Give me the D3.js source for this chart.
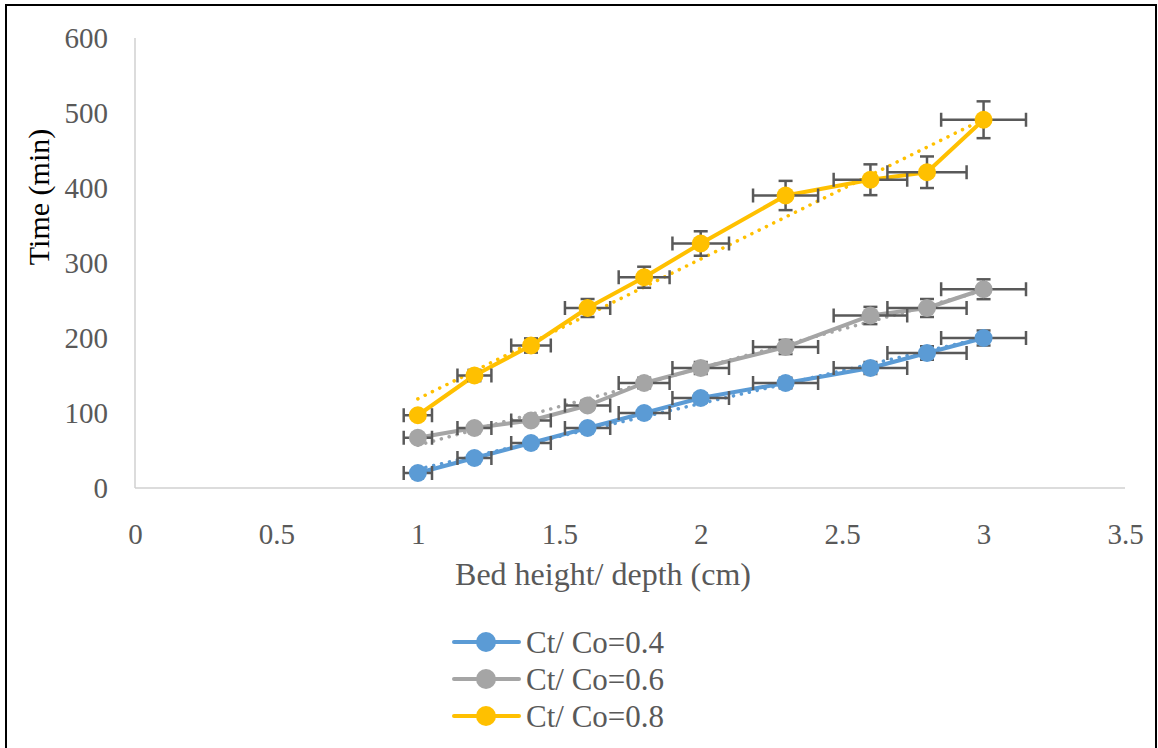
<!DOCTYPE html>
<html>
<head>
<meta charset="utf-8">
<script src="https://cdn.jsdelivr.net/npm/d3@7"></script>
<style>
  html, body { margin: 0; padding: 0; background: #fff; }
  svg { display: block; }
</style>
</head>
<body>
<svg id="chart" width="1158" height="748"></svg>
<script>
// ---- Data ----
const bedHeights = [1, 1.2, 1.4, 1.6, 1.8, 2, 2.3, 2.6, 2.8, 3];
const series04 = [20, 40, 60, 80, 100, 120, 140, 160, 180, 200];
const series06 = [67, 80, 90, 110, 140, 160, 188, 230, 240, 265];
const series08 = [97, 150, 190, 240, 281, 326, 390, 411, 421, 491];
const seriesNames = ["Ct/ Co=0.4", "Ct/ Co=0.6", "Ct/ Co=0.8"];
const seriesColors = ["#5b9bd5", "#a5a5a5", "#ffc000"];
const xTicks = [0, 0.5, 1, 1.5, 2, 2.5, 3, 3.5];
const yTicks = [0, 100, 200, 300, 400, 500, 600];
const errorPct = 0.05;

(function () {
const allSeries = [series04, series06, series08].map((vals, i) => ({
  name: seriesNames[i], color: seriesColors[i],
  points: bedHeights.map((x, j) => ({ x, y: vals[j] }))
}));

// ---- Layout ----
const svg = d3.select("#chart");
const mLeft = 135, mRight = 1125, mTop = 38, mBottom = 488;
const x = d3.scaleLinear().domain([0, 3.5]).range([mLeft, mRight]);
const y = d3.scaleLinear().domain([0, 600]).range([mBottom, mTop]);
const FONT = "'Liberation Serif', 'Times New Roman', serif";

// outer frame
svg.append("rect").attr("x", 6).attr("y", 5).attr("width", 1150).attr("height", 780)
  .attr("fill", "none").attr("stroke", "#000").attr("stroke-width", 2);

// axes
const xAxis = svg.append("g").attr("transform", `translate(0,${mBottom})`)
  .call(d3.axisBottom(x).tickValues(xTicks).tickSize(0).tickPadding(56).tickFormat(d3.format("")));
const yAxis = svg.append("g").attr("transform", `translate(${mLeft},0)`)
  .call(d3.axisLeft(y).tickValues(yTicks).tickSize(0).tickPadding(27));
[xAxis, yAxis].forEach(g => {
  g.select(".domain").attr("stroke", "#d0d0d0").attr("stroke-width", 1.5);
  g.selectAll("text").attr("font-family", FONT).attr("font-size", 29).attr("fill", "#595959");
});
xAxis.selectAll("text").attr("dy", null);
yAxis.select(".domain").attr("d", `M0,${mBottom}V${mTop}`);
xAxis.select(".domain").attr("d", `M${mLeft},0H${mRight}`);

// axis titles
svg.append("text").attr("x", 603).attr("y", 585)
  .attr("text-anchor", "middle").attr("font-family", FONT).attr("font-size", 32)
  .attr("fill", "#595959").text("Bed height/ depth (cm)");
svg.append("text").attr("transform", `translate(49,197) rotate(-90)`)
  .attr("text-anchor", "middle").attr("font-family", FONT).attr("font-size", 30)
  .attr("fill", "#000").text("Time (min)");

// linear trend lines (least squares of each series)
function linReg(pts) {
  const mx = d3.mean(pts, d => d.x), my = d3.mean(pts, d => d.y);
  const sxy = d3.sum(pts, d => (d.x - mx) * (d.y - my));
  const sxx = d3.sum(pts, d => (d.x - mx) ** 2);
  const b = sxy / sxx, a = my - b * mx;
  return xx => a + b * xx;
}
const line = d3.line().x(d => x(d.x)).y(d => y(d.y));

allSeries.forEach(s => {
  const f = linReg(s.points);
  const x0 = d3.min(s.points, d => d.x), x1 = d3.max(s.points, d => d.x);
  svg.append("path").attr("d", line([{ x: x0, y: f(x0) }, { x: x1, y: f(x1) }]))
    .attr("fill", "none").attr("stroke", s.color).attr("stroke-width", 3.5)
    .attr("stroke-linecap", "round").attr("stroke-dasharray", "0.1 8");
});

// series lines
allSeries.forEach(s => {
  svg.append("path").attr("d", line(s.points))
    .attr("fill", "none").attr("stroke", s.color).attr("stroke-width", 4)
    .attr("stroke-linejoin", "round");
});

// error bars + markers
allSeries.forEach(s => {
  const g = svg.append("g");
  const errC = "#595959", sw = 2.5, cap = 7;
  s.points.forEach(p => {
    const dy = p.y * errorPct, dx = p.x * errorPct;
    const cx = x(p.x), cy = y(p.y);
    const ya = y(p.y + dy), yb = y(p.y - dy);
    const xa = x(p.x - dx), xb = x(p.x + dx);
    g.append("line").attr("x1", cx).attr("x2", cx).attr("y1", ya).attr("y2", yb).attr("stroke", errC).attr("stroke-width", sw);
    g.append("line").attr("x1", cx - cap).attr("x2", cx + cap).attr("y1", ya).attr("y2", ya).attr("stroke", errC).attr("stroke-width", sw);
    g.append("line").attr("x1", cx - cap).attr("x2", cx + cap).attr("y1", yb).attr("y2", yb).attr("stroke", errC).attr("stroke-width", sw);
    g.append("line").attr("x1", xa).attr("x2", xb).attr("y1", cy).attr("y2", cy).attr("stroke", errC).attr("stroke-width", sw);
    g.append("line").attr("x1", xa).attr("x2", xa).attr("y1", cy - cap).attr("y2", cy + cap).attr("stroke", errC).attr("stroke-width", sw);
    g.append("line").attr("x1", xb).attr("x2", xb).attr("y1", cy - cap).attr("y2", cy + cap).attr("stroke", errC).attr("stroke-width", sw);
  });
  g.selectAll("circle").data(s.points).join("circle")
    .attr("cx", d => x(d.x)).attr("cy", d => y(d.y)).attr("r", 9)
    .attr("fill", s.color);
});

// legend
const legend = svg.append("g");
allSeries.forEach((s, i) => {
  const ly = 642 + i * 37;
  legend.append("line").attr("x1", 454).attr("x2", 519).attr("y1", ly).attr("y2", ly)
    .attr("stroke", s.color).attr("stroke-width", 4).attr("stroke-linecap", "round");
  legend.append("circle").attr("cx", 486).attr("cy", ly).attr("r", 10).attr("fill", s.color);
  legend.append("text").attr("x", 526).attr("y", ly + 11)
    .attr("font-family", FONT).attr("font-size", 31).attr("fill", "#595959").text(s.name);
});
})();
</script>
</body>
</html>
